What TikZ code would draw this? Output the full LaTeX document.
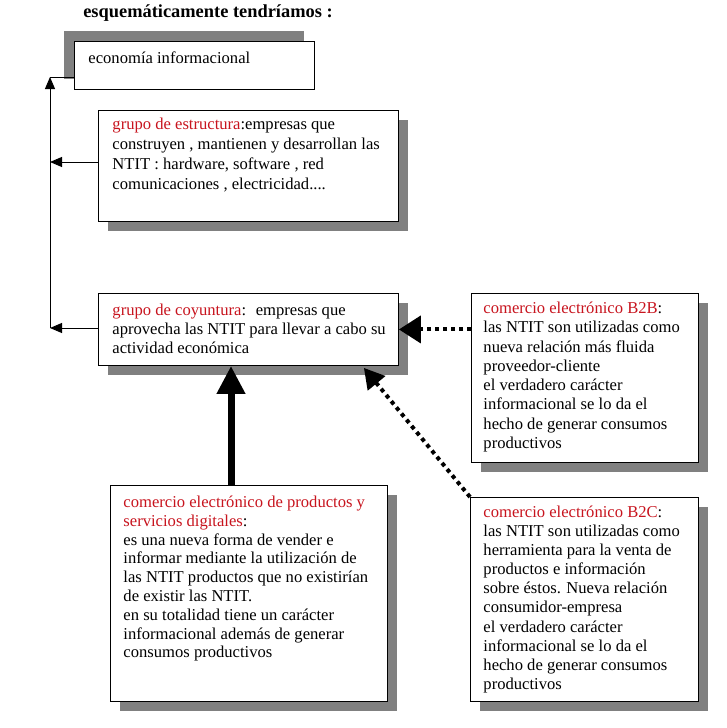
\documentclass[tikz,border=0pt]{standalone}
\usepackage{fontspec}
\setmainfont{Liberation Serif}
\usetikzlibrary{arrows.meta,shadows,calc}
\definecolor{txtred}{RGB}{200,20,30}
\definecolor{shadowgray}{RGB}{128,128,128}
\newcommand{\redt}[1]{\textcolor{txtred}{#1}}
% width, height, left inset, top gap, baselineskip, text
\newcommand{\boxbody}[6]{\parbox[b][#2][t]{#1}{\fontsize{16.6}{#5}\selectfont\raggedright\leftskip=#3\relax\vspace*{#4}\rule{0pt}{13pt}#6\par}}
\tikzset{
  box/.style={draw, line width=0.9pt, fill=white, inner sep=0pt, anchor=north west},
  shadowdr/.style={drop shadow={shadow xshift=10pt, shadow yshift=-10pt, fill=shadowgray, opacity=1}},
  shadowul/.style={drop shadow={shadow xshift=-10pt, shadow yshift=10pt, fill=shadowgray, opacity=1}},
  conn/.style={line width=0.9pt},
  smalltip/.style={-{Triangle[length=12pt,width=10pt]}},
  thickconn/.style={line width=7pt, -{Triangle[length=28pt,width=27pt]}},
  dotconn/.style={line width=4pt, dash pattern=on 4pt off 4pt},
}
\begin{document}
\begin{tikzpicture}[x=1pt,y=-1pt]
\useasboundingbox[fill=white] (0,0) rectangle (727,728);

\node[font=\fontsize{18.4}{22}\selectfont\bfseries, anchor=base] (title) at (208,17) {esquemáticamente tendríamos :};

\node[box, shadowul] (b1) at (74,41) {\boxbody{240pt}{48pt}{14pt}{9pt}{19.5pt}{economía informacional}};

\node[box, shadowdr] (b2) at (98,110) {\boxbody{300pt}{111pt}{14pt}{6pt}{20pt}{%
\redt{grupo de estructura}:empresas que\\
construyen , mantienen y desarrollan las\\
NTIT : hardware, software , red\\
comunicaciones , electricidad....}};

\node[box, shadowdr] (b3) at (98,293) {\boxbody{300pt}{72pt}{14pt}{9pt}{19.2pt}{%
\redt{grupo de coyuntura}:~ empresas que\\
aprovecha las NTIT para llevar a cabo su\\
actividad económica}};

\node[box, shadowdr] (b5) at (471,293) {\boxbody{227pt}{169pt}{12pt}{7pt}{19.3pt}{%
\redt{comercio electrónico B2B}:\\
las NTIT son utilizadas como\\
nueva relación más fluida\\
proveedor-cliente\\
el verdadero carácter\\
informacional se lo da el\\
hecho de generar consumos\\
productivos}};

\node[box, shadowdr] (b4) at (110,485) {\boxbody{277pt}{216pt}{13pt}{9pt}{18.8pt}{%
\redt{comercio electrónico de productos y}\\
\redt{servicios digitales}:\\
es una nueva forma de vender e\\
informar mediante la utilización de\\
las NTIT productos que no existirían\\
de existir las NTIT.\\
en su totalidad tiene un carácter\\
informacional además de generar\\
consumos productivos}};

\node[box, shadowdr] (b6) at (470,497) {\boxbody{228pt}{204pt}{13pt}{7pt}{19.1pt}{%
\redt{comercio electrónico B2C}:\\
las NTIT son utilizadas como\\
herramienta para la venta de\\
productos e información\\
sobre éstos. Nueva relación\\
consumidor-empresa\\
el verdadero carácter\\
informacional se lo da el\\
hecho de generar consumos\\
productivos}};

% left connectors
\coordinate (j1) at (50,77);
\coordinate (j2) at (50,162);
\coordinate (j3) at (50,328);
\draw[conn] (j1 -| b1.west) -- (j1);
\draw[conn, smalltip] (j2 -| b2.west) -- (j2);
\draw[conn, smalltip] (j3 -| b3.west) -- (j3);
\draw[conn, smalltip] (j3) -- (j1);

% thick arrow
\coordinate (tx) at (231,0);
\draw[thickconn] (tx |- b4.north) -- (tx |- b3.south);

% dotted arrows
\draw[dotconn, -{Triangle[length=22pt,width=27pt]}] (b5.west |- b3.east) -- (b3.east);
\coordinate (c3) at ($(b3.south east)+(-35,2)$);
\draw[dotconn, -{Triangle[length=20pt,width=22pt]}] (b6.north west) -- (c3);
\end{tikzpicture}
\end{document}
